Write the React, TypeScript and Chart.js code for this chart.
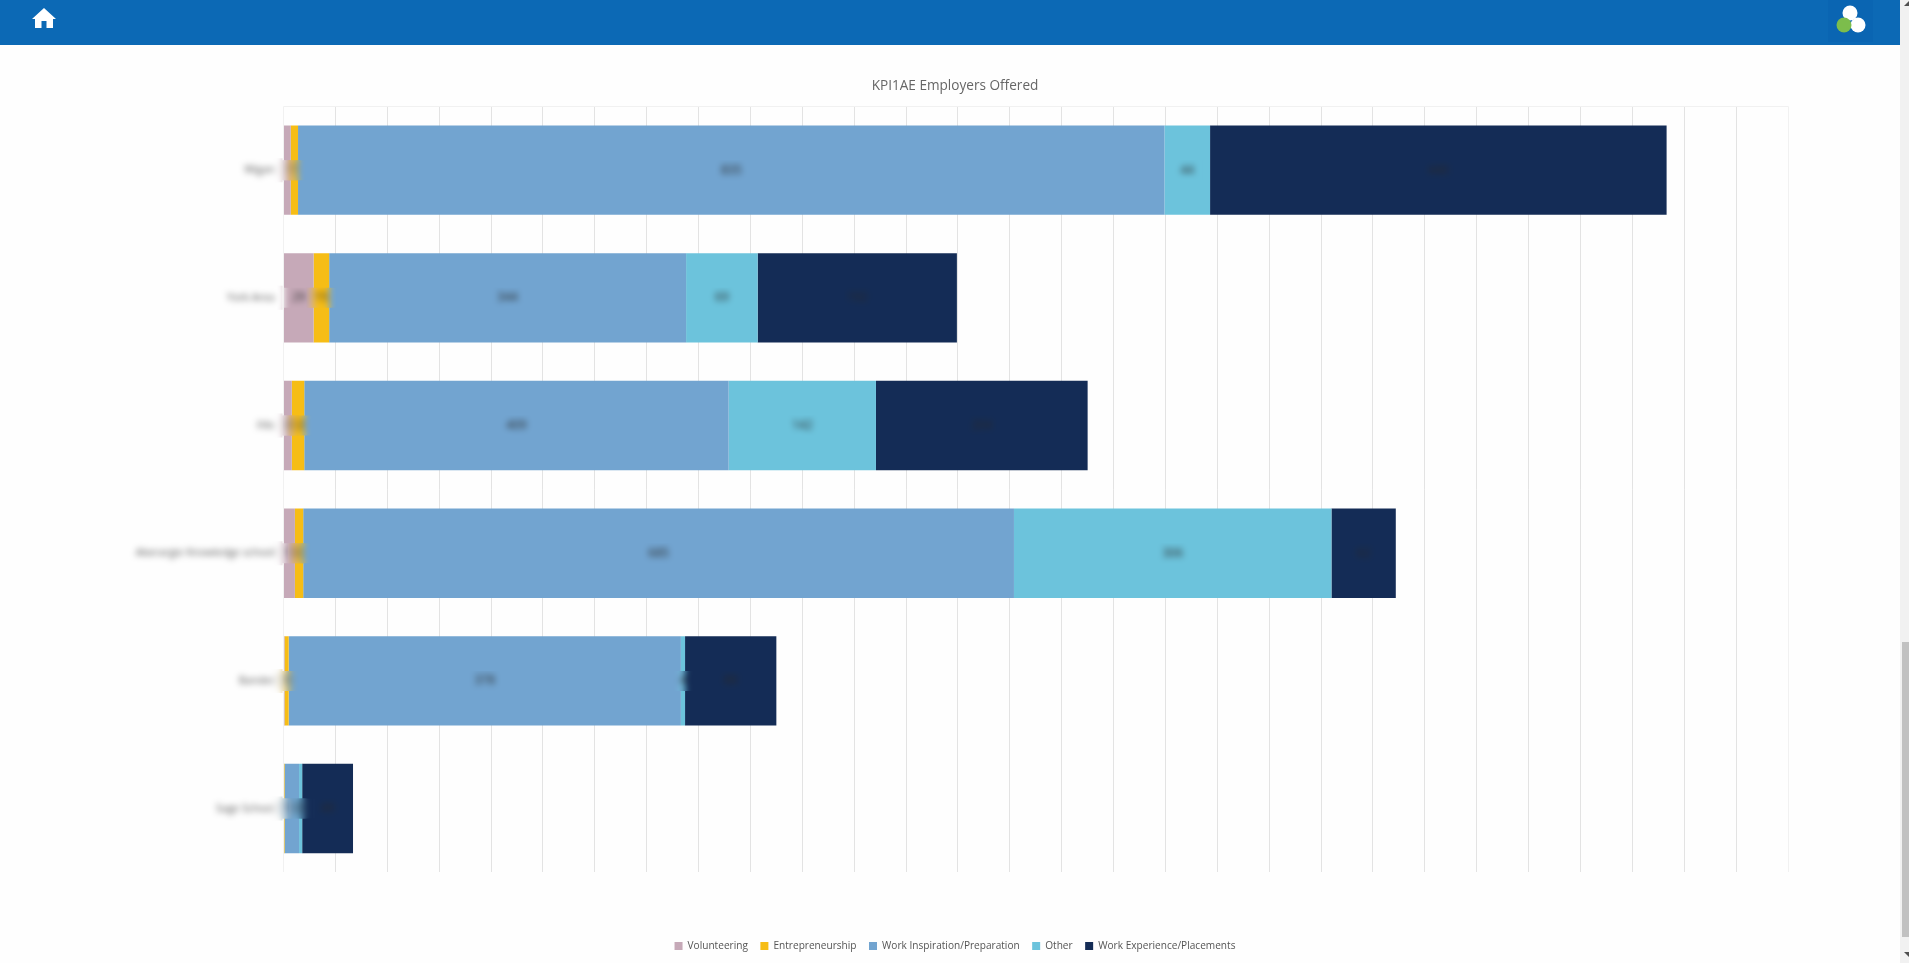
import React, { useEffect, useRef } from "react";
import { Chart, registerables } from "chart.js";

Chart.register(...registerables);

const categories = ["Wigan", "York Area", "Fife", "Aberargie Knowledge school", "Bander", "Sage School"];
const volunteering = [7, 29, 8, 11, 1, 0];
const entrepreneurship = [7, 15, 12, 8, 4, 1];
const workInspiration = [835, 344, 409, 685, 378, 14];
const other = [44, 69, 142, 306, 4, 3];
const workExperience = [440, 192, 204, 62, 88, 49];

const FONT = '"Open Sans", "Noto Sans", sans-serif';

function blurRegion(chart: any, x: number, y: number, w: number, h: number, radius: number) {
  const ctx = chart.ctx as CanvasRenderingContext2D;
  const r = chart.currentDevicePixelRatio || 1;
  ctx.save();
  ctx.beginPath();
  ctx.rect(x, y, w, h);
  ctx.clip();
  (ctx as any).filter = `blur(${radius}px)`;
  ctx.drawImage(chart.canvas, 0, 0, chart.canvas.width, chart.canvas.height, 0, 0, chart.canvas.width / r, chart.canvas.height / r);
  ctx.restore();
}

const redactPlugin = {
  id: "redact",
  beforeDraw(chart: any) {
    const ctx = chart.ctx as CanvasRenderingContext2D;
    ctx.save();
    ctx.fillStyle = "#fefefe";
    ctx.fillRect(0, 0, chart.width, chart.height);
    ctx.restore();
  },
  afterDraw(chart: any) {
    const ctx = chart.ctx as CanvasRenderingContext2D;
    const boxes: number[][] = [];
    ctx.save();
    ctx.font = `12px ${FONT}`;
    ctx.textAlign = "center";
    ctx.textBaseline = "middle";
    chart.data.datasets.forEach((ds: any, di: number) => {
      const meta = chart.getDatasetMeta(di);
      meta.data.forEach((bar: any, i: number) => {
        const v = ds.data[i];
        if (!v) return;
        const p = bar.getProps(["x", "base", "y"], true);
        const cx = (p.x + p.base) / 2;
        const txt = String(v);
        ctx.fillStyle = "#2a2a2a";
        ctx.fillText(txt, cx, p.y);
        const w = ctx.measureText(txt).width;
        boxes.push([cx - w / 2 - 8, p.y - 10, w + 16, 20, 3.4]);
      });
    });
    ctx.restore();
    const y = chart.scales.y;
    categories.forEach((label, i) => {
      const cy = y.getPixelForTick(i);
      ctx.save();
      ctx.font = `10.5px ${FONT}`;
      const w = ctx.measureText(label).width;
      ctx.restore();
      boxes.push([chart.chartArea.left - 9 - w - 10, cy - 12, w + 18, 24, 3]);
    });
    boxes.forEach((b) => blurRegion(chart, b[0], b[1], b[2], b[3], b[4]));
  },
};

const ds = (label: string, data: number[], color: string) => ({
  label,
  data,
  backgroundColor: color,
  borderWidth: 0,
  barPercentage: 0.7,
  categoryPercentage: 1,
});

export default function App() {
  const ref = useRef<HTMLCanvasElement>(null);
  useEffect(() => {
    const chart = new Chart(ref.current!, {
      type: "bar",
      data: {
        labels: categories,
        datasets: [
          ds("Volunteering", volunteering, "#c6a9b8"),
          ds("Entrepreneurship", entrepreneurship, "#f6bd16"),
          ds("Work Inspiration/Preparation", workInspiration, "#72a4d0"),
          ds("Other", other, "#6cc3dc"),
          ds("Work Experience/Placements", workExperience, "#142c56"),
        ],
      },
      plugins: [redactPlugin],
      options: {
        indexAxis: "y",
        animation: false,
        responsive: false,
        layout: { padding: { left: 122, right: 122, top: 0, bottom: 2 } },
        plugins: {
          title: {
            display: true,
            text: "KPI1AE Employers Offered",
            color: "#666666",
            font: { family: FONT, size: 13.6, weight: "normal" },
            padding: { top: 33, bottom: 12 },
          },
          legend: {
            position: "bottom",
            labels: {
              boxWidth: 8,
              boxHeight: 8,
              padding: 12.5,
              color: "#555555",
              font: { family: FONT, size: 10.1 },
            },
          },
          tooltip: { enabled: false },
        },
        scales: {
          x: {
            stacked: true,
            min: 0,
            max: 1450,
            ticks: { display: false, stepSize: 50 },
            border: { display: false },
            grid: {
              drawTicks: false,
              lineWidth: 1,
              color: (c: any) => (c.index === 0 || c.index === 29 ? "#f1f1f1" : "#e3e3e3"),
            },
            afterFit: (s: any) => {
              s.height = 56;
            },
          },
          y: {
            stacked: true,
            ticks: { color: "#555555", font: { family: FONT, size: 10.5 }, padding: 9 },
            border: { display: false },
            grid: {
              drawTicks: false,
              color: (c: any) => (c.index === 0 || c.index === 6 ? "#f1f1f1" : "rgba(0,0,0,0)"),
            },
            afterFit: (s: any) => {
              s.width = 161.5;
            },
          },
        },
      },
    } as any);
    return () => chart.destroy();
  }, []);

  return (
    <div style={{ position: "fixed", inset: 0, background: "#fefefe", overflow: "hidden" }}>
      <div style={{ position: "absolute", left: 0, top: 0, width: 1900, height: 45, background: "#0c69b5" }}>
        <svg style={{ position: "absolute", left: 32, top: 8 }} width="24" height="20" viewBox="0 0 24 20">
          <path d="M12 0 L24 11 L21 11 L21 20 L14.5 20 L14.5 13 L9.5 13 L9.5 20 L3 20 L3 11 L0 11 Z" fill="#ffffff" />
        </svg>
        <svg style={{ position: "absolute", left: 1828, top: 0 }} width="45" height="42" viewBox="0 0 45 42">
          <rect width="45" height="42" fill="#0a65b2" />
          <circle cx="22" cy="13" r="7.5" fill="#ffffff" />
          <circle cx="30" cy="25" r="7.5" fill="#ffffff" />
          <circle cx="16" cy="25" r="7.5" fill="#7cbd4c" />
        </svg>
      </div>
      <canvas
        ref={ref}
        width={1910}
        height={918}
        style={{ position: "absolute", left: 0, top: 45, width: 1910, height: 918 }}
      />
      <div style={{ position: "absolute", left: 1900, top: 0, width: 9, height: 963, background: "#f1f1f1" }}>
        <div style={{ position: "absolute", left: 2, top: 642, width: 7, height: 295, background: "#c1c1c1" }} />
        <svg style={{ position: "absolute", left: 4, top: 1 }} width="5" height="5" viewBox="0 0 5 5">
          <path d="M0 5 L5 5 L5 0 Z" fill="#505050" />
        </svg>
        <svg style={{ position: "absolute", left: 4, top: 952 }} width="5" height="5" viewBox="0 0 5 5">
          <path d="M0 0 L5 0 L5 5 Z" fill="#505050" />
        </svg>
      </div>
    </div>
  );
}
